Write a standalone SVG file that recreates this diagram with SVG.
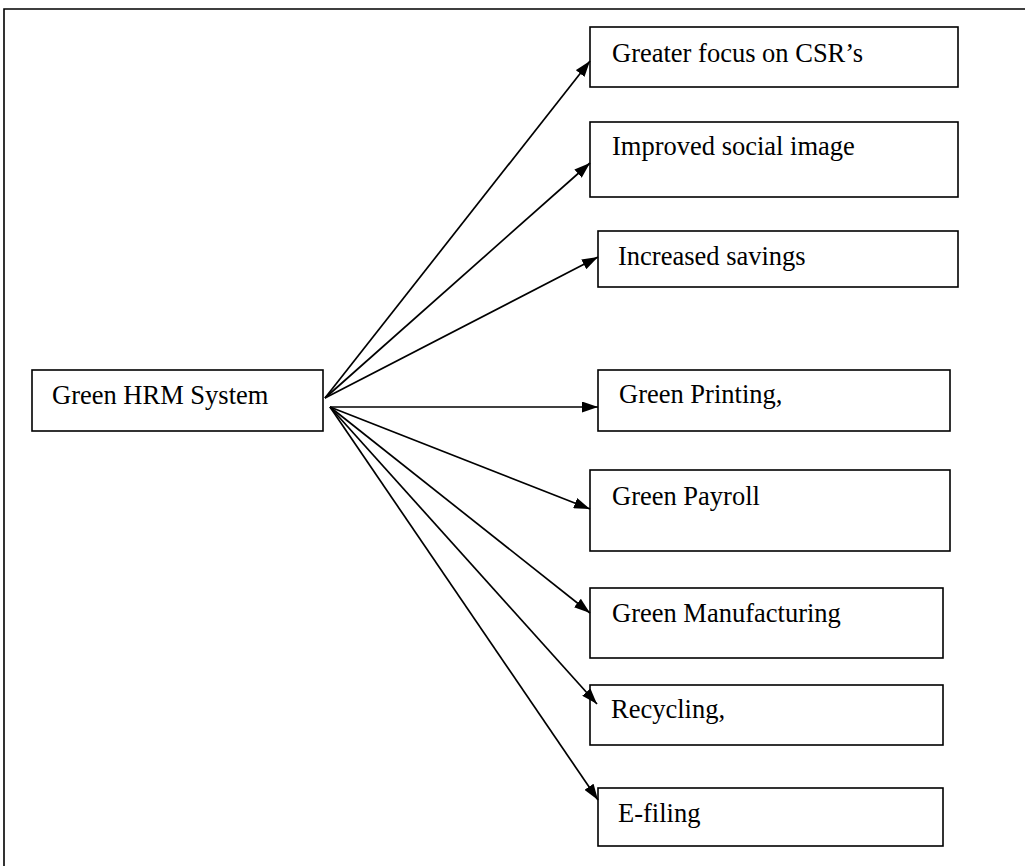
<svg xmlns="http://www.w3.org/2000/svg" width="1025" height="866" viewBox="0 0 1025 866">
<defs>
<style>
.box{fill:#fff;stroke:#000;stroke-width:1.6}
.t{font-family:"Liberation Serif","Times New Roman",serif;font-size:26.5px;fill:#000}
.c{stroke:#000;stroke-width:1.7;fill:none;marker-end:url(#ah)}
</style>
<marker id="ah" viewBox="0 0 16 11" refX="16" refY="5.5" markerWidth="16" markerHeight="11" markerUnits="userSpaceOnUse" orient="auto"><path d="M0,0 L16,5.5 L0,11 Z" fill="#000"/></marker>
</defs>
<rect width="1025" height="866" fill="#fff"/>
<path d="M4,866 V9 H1025" fill="none" stroke="#000" stroke-width="1.6"/>
<g id="main"><rect class="box" x="32" y="370" width="291" height="61"/><text class="t" x="52" y="404">Green HRM System</text></g>
<g id="n1"><rect class="box" x="590" y="27" width="368" height="60"/><text class="t" x="612" y="62">Greater focus on CSR’s</text></g>
<g id="n2"><rect class="box" x="590" y="122" width="368" height="75"/><text class="t" x="612" y="155">Improved social image</text></g>
<g id="n3"><rect class="box" x="598" y="231" width="360" height="56"/><text class="t" x="618" y="265">Increased savings</text></g>
<g id="n4"><rect class="box" x="598" y="370" width="352" height="61"/><text class="t" x="619" y="403">Green Printing,</text></g>
<g id="n5"><rect class="box" x="590" y="470" width="360" height="81"/><text class="t" x="612" y="505">Green Payroll</text></g>
<g id="n6"><rect class="box" x="590" y="588" width="353" height="70"/><text class="t" x="612" y="622">Green Manufacturing</text></g>
<g id="n7"><rect class="box" x="590" y="685" width="353" height="60"/><text class="t" x="611" y="718">Recycling,</text></g>
<g id="n8"><rect class="box" x="598" y="788" width="345" height="58"/><text class="t" x="618" y="822">E-filing</text></g>
<g id="connectors">
<line class="c" x1="325" y1="398" x2="590" y2="61"/>
<line class="c" x1="325" y1="398" x2="590" y2="163"/>
<line class="c" x1="325" y1="398" x2="598" y2="257"/>
<line class="c" x1="330" y1="407" x2="598" y2="407"/>
<line class="c" x1="330" y1="407" x2="590" y2="509"/>
<line class="c" x1="330" y1="407" x2="590" y2="613"/>
<line class="c" x1="330" y1="407" x2="597" y2="704"/>
<line class="c" x1="330" y1="407" x2="598" y2="800"/>
</g>
</svg>
